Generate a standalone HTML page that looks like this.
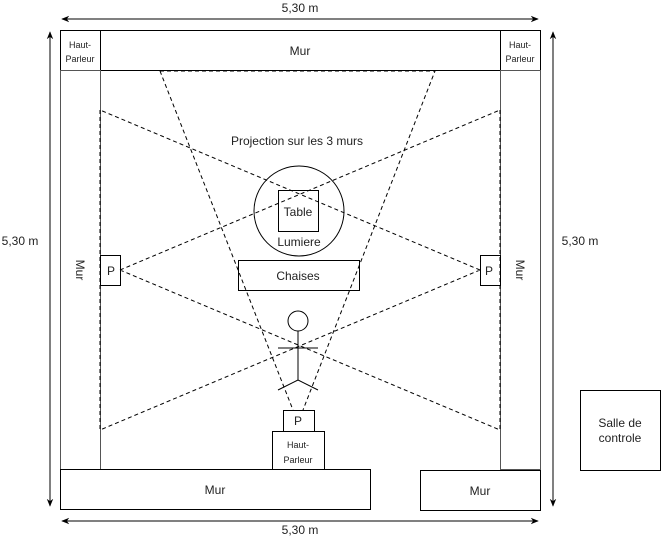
<!DOCTYPE html>
<html><head><meta charset="utf-8"><style>body{margin:0;background:#fff}svg{display:block}text{font-family:"Liberation Sans",sans-serif;fill:#222}</style></head><body>
<svg width="662" height="542" viewBox="0 0 662 542" xmlns="http://www.w3.org/2000/svg">
<defs><marker id="a" viewBox="0 0 10 10" refX="9" refY="5" markerWidth="8" markerHeight="8" orient="auto-start-reverse"><path d="M0,1 L10,5 L0,9 L3,5 z" fill="#000"/></marker></defs>
<g stroke="#000" fill="none" stroke-width="1">
<line x1="62" y1="19" x2="538" y2="19" marker-start="url(#a)" marker-end="url(#a)"/>
<line x1="62" y1="521" x2="538" y2="521" marker-start="url(#a)" marker-end="url(#a)"/>
<line x1="50" y1="32" x2="50" y2="506" marker-start="url(#a)" marker-end="url(#a)"/>
<line x1="553" y1="32" x2="553" y2="506" marker-start="url(#a)" marker-end="url(#a)"/>
<rect x="60.5" y="30.5" width="480" height="40"/>
<rect x="60.5" y="30.5" width="40" height="40"/>
<rect x="500.5" y="30.5" width="40" height="40"/>
<rect x="60.5" y="70.5" width="40" height="399" stroke="#555"/>
<rect x="500.5" y="70.5" width="40" height="399" stroke="#555"/>
<rect x="60.5" y="469.5" width="310" height="40"/>
<rect x="420.5" y="470.5" width="120" height="40"/>
<rect x="100.5" y="255.5" width="20" height="30"/>
<rect x="480.5" y="255.5" width="20" height="30"/>
<circle cx="299" cy="211" r="45"/>
<rect x="278.5" y="190.5" width="40" height="41"/>
<rect x="238.5" y="260.5" width="121" height="30"/>
<rect x="283.5" y="410.5" width="31" height="21"/>
<rect x="272.5" y="431.5" width="52" height="38"/>
<rect x="580.5" y="390.5" width="80" height="80"/>
<circle cx="298" cy="321" r="10"/>
<path d="M298 331V380M278 348H318M298 380L278 390M298 380L318 390"/>
<g stroke-dasharray="4 3">
<path d="M160 71H435L303 410M160 71L293 410"/>
<path d="M120 270L500 110M120 270L500 430M480 270L100 110M480 270L100 430"/>
<path d="M100 110V430M500 110V430"/>
</g>
</g>
<g font-size="12" text-anchor="middle">
<text x="300" y="12">5,30 m</text>
<text x="300" y="534">5,30 m</text>
<text x="20" y="245">5,30 m</text>
<text x="580" y="245">5,30 m</text>
<text x="300" y="55">Mur</text>
<text x="215" y="494">Mur</text>
<text x="480" y="495">Mur</text>
<text x="297" y="145">Projection sur les 3 murs</text>
<text x="298" y="216">Table</text>
<text x="299" y="246">Lumiere</text>
<text x="298" y="280">Chaises</text>
<text x="111" y="275">P</text>
<text x="489" y="275">P</text>
<text x="298" y="425">P</text>
<text x="620" y="427">Salle de</text>
<text x="620" y="442">controle</text>
<text transform="translate(76,270) rotate(90)">Mur</text>
<text transform="translate(516,270) rotate(90)">Mur</text>
</g>
<g font-size="9" text-anchor="middle">
<text x="80" y="48">Haut-</text><text x="80" y="62">Parleur</text>
<text x="520" y="48">Haut-</text><text x="520" y="62">Parleur</text>
<text x="298" y="448">Haut-</text><text x="298" y="463">Parleur</text>
</g>
</svg>
</body></html>
